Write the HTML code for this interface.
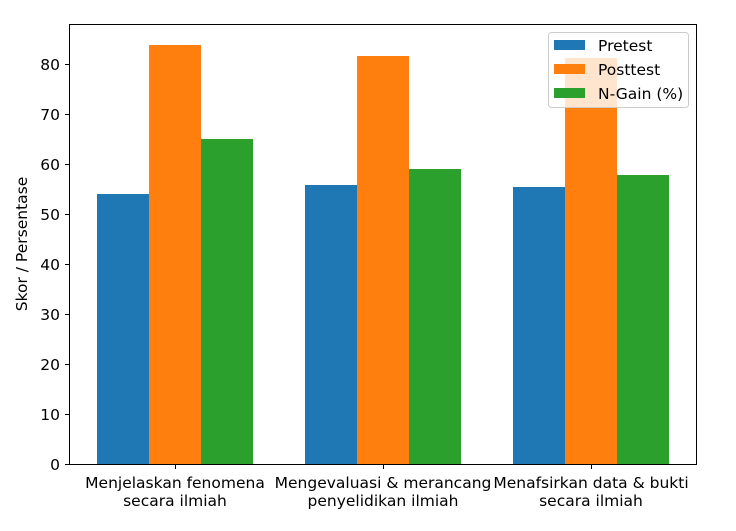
<!DOCTYPE html>
<html><head><style>body{margin:0;background:#fff}</style></head><body>
<svg width="736" height="526" xmlns="http://www.w3.org/2000/svg" font-family="DejaVu Sans, Liberation Sans, sans-serif" font-size="15.5">
<rect width="736" height="526" fill="#fff"/>
<g>
<rect x="97" y="194" width="52" height="270" fill="#1f77b4"/>
<rect x="149" y="45" width="52" height="419" fill="#ff7f0e"/>
<rect x="201" y="139" width="52" height="325" fill="#2ca02c"/>
<rect x="305" y="185" width="52" height="279" fill="#1f77b4"/>
<rect x="357" y="56" width="52" height="408" fill="#ff7f0e"/>
<rect x="409" y="169" width="52" height="295" fill="#2ca02c"/>
<rect x="513" y="187" width="52" height="277" fill="#1f77b4"/>
<rect x="565" y="58" width="52" height="406" fill="#ff7f0e"/>
<rect x="617" y="175" width="52" height="289" fill="#2ca02c"/>
</g>
<rect x="69.5" y="24.5" width="627" height="440" fill="none" stroke="#000" stroke-width="1"/>
<g stroke="#000">
<line x1="65" x2="69" y1="464.5" y2="464.5"/><line x1="65" x2="69" y1="414.5" y2="414.5"/>
<line x1="65" x2="69" y1="364.5" y2="364.5"/><line x1="65" x2="69" y1="314.5" y2="314.5"/>
<line x1="65" x2="69" y1="264.5" y2="264.5"/><line x1="65" x2="69" y1="214.5" y2="214.5"/>
<line x1="65" x2="69" y1="164.5" y2="164.5"/><line x1="65" x2="69" y1="114.5" y2="114.5"/>
<line x1="65" x2="69" y1="64.5" y2="64.5"/>
<line x1="175.5" x2="175.5" y1="465" y2="469"/><line x1="383.5" x2="383.5" y1="465" y2="469"/><line x1="591.5" x2="591.5" y1="465" y2="469"/>
</g>
<g text-anchor="end">
<text x="60" y="470">0</text><text x="60" y="420">10</text><text x="60" y="370">20</text>
<text x="60" y="320">30</text><text x="60" y="270">40</text><text x="60" y="220">50</text>
<text x="60" y="170">60</text><text x="60" y="120">70</text><text x="60" y="70">80</text>
</g>
<g text-anchor="middle">
<text x="175" y="488">Menjelaskan fenomena</text><text x="175" y="506">secara ilmiah</text>
<text x="383" y="488">Mengevaluasi &amp; merancang</text><text x="383" y="506">penyelidikan ilmiah</text>
<text x="591" y="488">Menafsirkan data &amp; bukti</text><text x="591" y="506">secara ilmiah</text>
</g>
<text transform="translate(27,244) rotate(-90)" text-anchor="middle">Skor / Persentase</text>
<rect x="548.5" y="32.5" width="140" height="75" rx="3" fill="#fff" fill-opacity="0.8" stroke="#ccc"/>
<rect x="554" y="40" width="31" height="10" fill="#1f77b4"/>
<rect x="554" y="64" width="31" height="10" fill="#ff7f0e"/>
<rect x="554" y="88" width="31" height="10" fill="#2ca02c"/>
<text x="598" y="51">Pretest</text>
<text x="598" y="75">Posttest</text>
<text x="598" y="99">N-Gain (%)</text>
</svg>
</body></html>
